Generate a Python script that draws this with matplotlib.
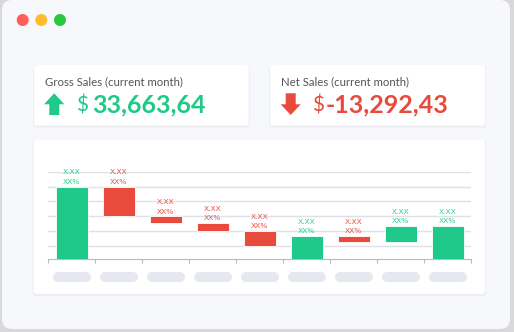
import numpy as np
import matplotlib
matplotlib.use("Agg")
import matplotlib.pyplot as plt
from matplotlib.patches import FancyBboxPatch, Circle, Polygon
from matplotlib.transforms import blended_transform_factory

# waterfall steps: bottom / top of each floating bar
bottoms = [0.0, 3.0, 2.56, 2.0, 1.0, 0.0, 1.29, 1.29, 0.0]
tops = [5.0, 5.0, 3.0, 2.56, 2.0, 1.68, 1.68, 2.36, 2.36]
kind = ['up', 'down', 'down', 'down', 'down', 'up', 'down', 'up', 'up']
val_labels = ['X.XX'] * 9
pct_labels = ['XX%'] * 9

gross_title = 'Gross Sales (current month)'
gross_value = '33,663,64'
net_title = 'Net Sales (current month)'
net_value = '-13,292,43'

GREEN = '#1fc98a'
RED = '#e84a3c'
GREEN_T = '#2fcf92'
RED_T = '#ea5448'

plt.rcParams['font.family'] = ['Lato', 'DejaVu Sans']

W, H = 514, 332
fig = plt.figure(figsize=(W / 100, H / 100), dpi=100)
fig.patch.set_facecolor('#d8d8d8')

# background / decoration layer in pixel coords
bg = fig.add_axes([0, 0, 1, 1])
bg.set_xlim(0, W)
bg.set_ylim(H, 0)
bg.axis('off')
bg.set_zorder(0)


def card(x0, y0, x1, y1, fc='white', r=3, shadow=True):
    if shadow:
        bg.add_patch(FancyBboxPatch((x0 - 1, y0), x1 - x0 + 2, y1 - y0 + 2,
                                    boxstyle=f'round,pad=0,rounding_size={r + 1}',
                                    fc='#eceef4', ec='none'))
    bg.add_patch(FancyBboxPatch((x0, y0), x1 - x0, y1 - y0,
                                boxstyle=f'round,pad=0,rounding_size={r}',
                                fc=fc, ec='none'))


# window
card(2, 0, 510, 329, fc='#f7f8fc', r=10, shadow=False)
for cx, c in zip([22.7, 41.3, 60.0], ['#ff5f57', '#febc2e', '#28c840']):
    bg.add_patch(Circle((cx, 20), 6, fc=c, ec='none'))

# KPI cards
card(34, 65, 248.7, 125.7)
card(270, 65, 485, 125.7)
card(33.5, 140, 485, 294)

bg.text(45, 81.5, gross_title, fontsize=8.2, color='#555555', va='center')
bg.text(281, 81.5, net_title, fontsize=8.2, color='#555555', va='center')

# arrows
bg.add_patch(Polygon([(54.2, 93.3), (64.3, 104.3), (59.3, 104.3), (59.3, 115),
                      (49.3, 115), (49.3, 104.3), (44, 104.3)],
                     closed=True, fc=GREEN, ec='none'))
bg.add_patch(Polygon([(290.7, 115), (300.7, 104.3), (295.7, 104.3), (295.7, 93.3),
                      (285.7, 93.3), (285.7, 104.3), (280.7, 104.3)],
                     closed=True, fc=RED, ec='none'))

bg.text(76, 105, '$', fontsize=15, color=GREEN, va='center')
bg.text(92, 105, gross_value, fontsize=18, color=GREEN, va='center', fontweight='bold')
bg.text(312, 105, '$', fontsize=15, color=RED, va='center')
bg.text(326, 105, net_value, fontsize=18, color=RED, va='center', fontweight='bold')

# chart
ax = fig.add_axes([48.3 / W, (H - 259.3) / H, 423 / W, 87.6 / H])
ax.set_zorder(1)
ax.patch.set_alpha(0)

x = np.arange(len(tops))
heights = [t - b for t, b in zip(tops, bottoms)]
colors = [GREEN if k == 'up' else RED for k in kind]
ax.bar(x, heights, bottom=bottoms, width=0.68, color=colors,
       edgecolor='white', linewidth=0.6, zorder=3)

for i in range(len(x)):
    tc = GREEN_T if kind[i] == 'up' else RED_T
    ax.annotate(pct_labels[i], (x[i], tops[i]), xytext=(0, 3.4), textcoords='offset points',
                ha='center', va='center', fontsize=5.4, color=tc, family='DejaVu Sans')
    ax.annotate(val_labels[i], (x[i], tops[i]), xytext=(0, 10.2), textcoords='offset points',
                ha='center', va='center', fontsize=5.4, color=tc, family='DejaVu Sans')

ax.set_xlim(-0.5, len(x) - 0.5)
ax.set_ylim(0.1, 6)
ax.set_yticks([1, 2, 3, 4, 5, 6])
ax.yaxis.grid(True, color='#dfe0e8', linewidth=1, zorder=0)
ax.set_axisbelow(True)
ax.tick_params(axis='y', length=0, labelleft=False)
ax.set_xticks(np.arange(-0.5, len(x), 1.0))
ax.tick_params(axis='x', length=3, color='#b8bac2', labelbottom=False)
for s in ['top', 'right', 'left']:
    ax.spines[s].set_visible(False)
ax.spines['bottom'].set_color('#b8bac2')

# tick label placeholders
tr = blended_transform_factory(ax.transData, ax.transAxes)
for xi in x:
    ax.plot([xi - 0.298, xi + 0.298], [-0.199, -0.199], transform=tr, color='#e6e8ef',
            lw=7.2, solid_capstyle='round', clip_on=False)

fig.savefig('out.png', dpi=100, facecolor=fig.get_facecolor())
